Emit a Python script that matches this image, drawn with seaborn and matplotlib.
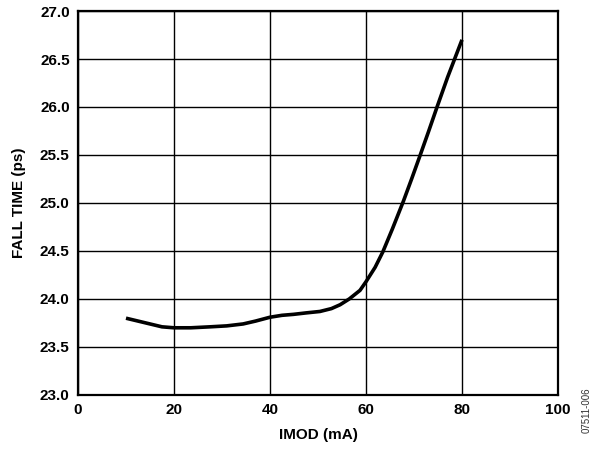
import numpy as np
import pandas as pd
import seaborn as sns
import matplotlib
matplotlib.use("Agg")
import matplotlib.pyplot as plt

# values
imod_ma = [10, 12.5, 15, 17.5, 20, 23.5, 27.5, 31, 34.4, 37, 40, 42.5, 44.9, 47.5,
           50.4, 52.8, 54.6, 56.5, 58.75, 60, 61.9, 63.5, 65.5, 67.8, 69.5, 71.3,
           73, 74.8, 77, 80]
fall_time_ps = [23.80, 23.77, 23.74, 23.71, 23.70, 23.70, 23.71, 23.72, 23.74, 23.77,
                23.81, 23.83, 23.84, 23.855, 23.87, 23.90, 23.94, 24.00, 24.09, 24.18,
                24.33, 24.49, 24.73, 25.02, 25.25, 25.50, 25.74, 26.00, 26.31, 26.70]

x_ticks = [0, 20, 40, 60, 80, 100]
y_ticks = [23.0, 23.5, 24.0, 24.5, 25.0, 25.5, 26.0, 26.5, 27.0]

df = pd.DataFrame({"imod": imod_ma, "fall": fall_time_ps})

sns.set_theme(style="white")
plt.rcParams["font.family"] = ["Liberation Sans", "DejaVu Sans"]

fig = plt.figure(figsize=(5.94, 4.51), dpi=100)
ax = fig.add_axes([0.1313, 0.1242, 0.8081, 0.8514])

sns.lineplot(data=df, x="imod", y="fall", ax=ax, color="black", linewidth=2.6,
             errorbar=None, sort=False, solid_joinstyle="round", solid_capstyle="butt")

ax.set_xlim(0, 100)
ax.set_ylim(23.0, 27.0)
ax.set_xticks(x_ticks)
ax.set_yticks(y_ticks)
ax.set_xticklabels([str(t) for t in x_ticks], fontsize=11, fontweight="bold")
ax.set_yticklabels([f"{t:.1f}" for t in y_ticks], fontsize=11, fontweight="bold")
ax.tick_params(axis="both", length=0, pad=6, colors="black")
ax.grid(True, color="black", linewidth=1.0)
for s in ax.spines.values():
    s.set_color("black")
    s.set_linewidth(1.6)

ax.set_xlabel("IMOD (mA)", fontsize=11, fontweight="bold", labelpad=8, color="black")
ax.set_ylabel("FALL TIME (ps)", fontsize=11, fontweight="bold", labelpad=10, color="black")

fig.text(0.988, 0.09, "07511-006", rotation=90, fontsize=7, color="#333333",
         ha="center", va="center")

fig.savefig("out.png", dpi=100)
